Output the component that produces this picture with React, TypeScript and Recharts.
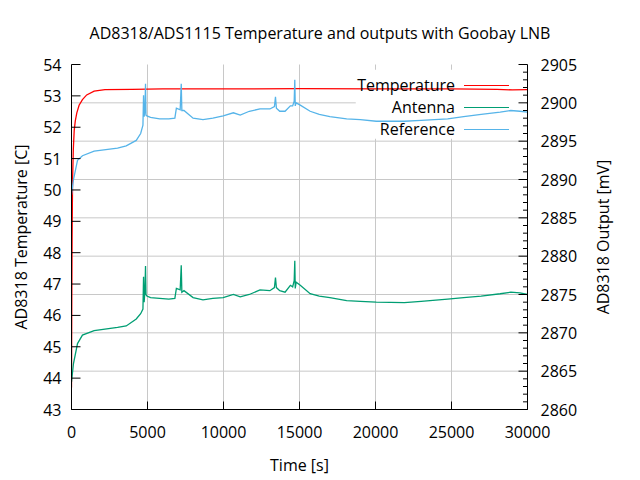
import React from "react";
import {
    ComposedChart,
    Line,
    XAxis,
    YAxis,
    CartesianGrid,
    ReferenceArea,
    Legend,
} from "recharts";

const FONT = "'Open Sans', sans-serif";

// temperature trace (left axis)
const TEMP_T = [0, 20, 40, 70, 120, 178, 250, 350, 500, 720, 1000, 1490, 2200, 4000, 6000, 10000, 15000, 20000, 25000, 28000, 29000, 30000];
const TEMP_C = [43.7, 46.5, 48.5, 50.3, 51.3, 51.9, 52.2, 52.46, 52.7, 52.88, 53.03, 53.15, 53.2, 53.21, 53.22, 53.22, 53.23, 53.22, 53.22, 53.21, 53.19, 53.2];

// detector outputs (right axis), shared time base
const SIG_T = [
    0, 130, 395, 720, 1490, 3030, 3600, 4260, 4550, 4700,
    4740, 4780, 4830, 4870, 4900, 4960, 5200, 5800, 6400, 6800,
    6900, 7150, 7220, 7260, 7400, 8000, 8650, 9300, 9980, 10650,
    11100, 11700, 12400, 13050, 13350, 13420, 13480, 13700, 14050, 14400,
    14550, 14650, 14690, 14720, 14780, 15050, 15700, 16300, 17000, 18100,
    19000, 20050, 21900, 23000, 24750, 25800, 26950, 28200, 28900, 29500,
    30000,
];
const ANTENNA_MV = [
    2863.6, 2866.0, 2868.6, 2869.7, 2870.3, 2870.7, 2870.9, 2871.8, 2872.5, 2873.1,
    2877.3, 2874.0, 2875.5, 2878.7, 2875.0, 2874.8, 2874.6, 2874.5, 2874.4, 2874.5,
    2875.8, 2875.6, 2878.8, 2875.3, 2875.5, 2874.6, 2874.3, 2874.5, 2874.6, 2875.0,
    2874.7, 2875.0, 2875.6, 2875.5, 2875.9, 2877.2, 2875.9, 2875.5, 2875.3, 2876.2,
    2876.0, 2876.8, 2879.4, 2875.8, 2876.6, 2876.2, 2875.1, 2874.8, 2874.6, 2874.2,
    2874.1, 2874.0, 2873.95, 2874.1, 2874.4, 2874.6, 2874.8, 2875.1, 2875.3, 2875.2,
    2875.0,
];
const REFERENCE_MV = [
    2888.0, 2890.0, 2892.5, 2893.1, 2893.7, 2894.1, 2894.4, 2895.1, 2896.0, 2897.1,
    2901.0, 2898.2, 2899.0, 2902.5, 2898.4, 2898.3, 2898.1, 2897.9, 2897.9, 2898.0,
    2899.3, 2899.1, 2902.5, 2899.0, 2899.0, 2898.0, 2897.8, 2898.0, 2898.3, 2898.7,
    2898.4, 2898.9, 2899.2, 2899.2, 2899.5, 2900.8, 2899.3, 2898.9, 2898.9, 2899.6,
    2899.6, 2900.2, 2903.0, 2899.6, 2900.0, 2899.7, 2898.9, 2898.5, 2898.2, 2897.9,
    2897.8, 2897.6, 2897.6, 2897.7, 2897.9, 2898.2, 2898.5, 2898.8, 2899.0, 2898.9,
    2898.8,
];

const X_TICKS = [0, 5000, 10000, 15000, 20000, 25000, 30000];
const LEFT_TICKS = [43, 44, 45, 46, 47, 48, 49, 50, 51, 52, 53, 54];
const RIGHT_DOMAIN = [2860, 2905];
const RIGHT_MAJOR = [2860, 2865, 2870, 2875, 2880, 2885, 2890, 2895, 2900, 2905];
const RIGHT_TICKS = Array.from({ length: 46 }, (_, i) => 2860 + i);
const GRID_MV = [2865, 2870, 2875, 2880, 2885, 2890, 2895, 2900];

const SERIES = [
    { name: "Temperature", color: "#ff0000" },
    { name: "Antenna", color: "#009e73" },
    { name: "Reference", color: "#56b4e9" },
];

const tempData = TEMP_T.map((t, i) => ({ t, temp: TEMP_C[i] }));
const sigData = SIG_T.map((t, i) => ({ t, antenna: ANTENNA_MV[i], reference: REFERENCE_MV[i] }));

const txt = { fontFamily: FONT, fontSize: 16, fill: "#000" };

// horizontal grid follows the right (mV) axis major ticks
function gridRows({ offset }: any) {
    const [lo, hi] = RIGHT_DOMAIN;
    return GRID_MV.map(v => offset.top + offset.height * (1 - (v - lo) / (hi - lo)));
}

function BottomTick({ x, y, payload }: any) {
    return (
        <g>
            <line x1={x} x2={x} y1={y} y2={y - 8} stroke="#000" />
            <text x={x} y={y + 28} textAnchor="middle" style={txt}>{payload.value}</text>
        </g>
    );
}

function TopTick({ x, y }: any) {
    return <line x1={x} x2={x} y1={y} y2={y + 8} stroke="#000" />;
}

function LeftTick({ x, y, payload }: any) {
    return (
        <g>
            <line x1={x} x2={x + 9} y1={y} y2={y} stroke="#000" />
            <text x={x - 10} y={y + 6} textAnchor="end" style={txt}>{payload.value}</text>
        </g>
    );
}

function RightTick({ x, y, payload }: any) {
    const major = RIGHT_MAJOR.includes(payload.value);
    return (
        <g>
            <line x1={x - (major ? 9 : 4.5)} x2={x} y1={y} y2={y} stroke="#000" />
            {major && (
                <text x={x + 13} y={y + 6} textAnchor="start" style={txt}>{payload.value}</text>
            )}
        </g>
    );
}

function KeyBox() {
    return (
        <div style={{ fontFamily: FONT, fontSize: 16, color: "#000" }}>
            {SERIES.map(s => (
                <div key={s.name} style={{ display: "flex", alignItems: "center", justifyContent: "flex-end", height: 22 }}>
                    <span style={{ lineHeight: "22px" }}>{s.name}</span>
                    <span style={{ display: "inline-block", width: 45, height: 1, background: s.color, marginLeft: 9 }} />
                </div>
            ))}
        </div>
    );
}

export default function App() {
    return (
        <div style={{ position: "absolute", left: 0, top: 0, width: 640, height: 480, background: "#fff" }}>
            <ComposedChart data={sigData} width={640} height={480} margin={{ top: 64.5, right: 0, bottom: 0, left: 0 }}>
                <CartesianGrid
                    stroke="#c8c8c8"
                    strokeWidth={1}
                    horizontalCoordinatesGenerator={gridRows}
                />
                <ReferenceArea yAxisId="right" x1={18700} x2={29900} y1={2895.3} y2={2904.3} fill="#fff" fillOpacity={1} stroke="none" ifOverflow="visible" />
                <XAxis
                    type="number"
                    dataKey="t"
                    domain={[0, 30000]}
                    ticks={X_TICKS}
                    interval={0}
                    allowDataOverflow
                    height={70.5}
                    tickSize={0}
                    tickMargin={0}
                    tick={<BottomTick />}
                    axisLine={{ stroke: "#000" }}
                    label={{
                        content: ({ viewBox }: any) => (
                            <text x={viewBox.x + viewBox.width / 2} y={viewBox.y + 61} textAnchor="middle" style={txt}>Time [s]</text>
                        ),
                    }}
                />
                <XAxis
                    xAxisId="top"
                    orientation="top"
                    type="number"
                    dataKey="t"
                    domain={[0, 30000]}
                    ticks={X_TICKS}
                    interval={0}
                    height={0}
                    tickSize={0}
                    tickMargin={0}
                    tick={<TopTick />}
                    axisLine={{ stroke: "#000" }}
                />
                <YAxis
                    yAxisId="left"
                    type="number"
                    domain={[43, 54]}
                    ticks={LEFT_TICKS}
                    interval={0}
                    width={71.5}
                    allowDataOverflow
                    tickSize={0}
                    tickMargin={0}
                    tick={<LeftTick />}
                    axisLine={{ stroke: "#000" }}
                    label={{
                        content: ({ viewBox }: any) => {
                            const cx = 21;
                            const cy = viewBox.y + viewBox.height / 2;
                            return (
                                <text x={cx} y={cy} textAnchor="middle" dominantBaseline="central" transform={`rotate(-90 ${cx} ${cy})`} style={txt}>
                                    AD8318 Temperature [C]
                                </text>
                            );
                        },
                    }}
                />
                <YAxis
                    yAxisId="right"
                    orientation="right"
                    type="number"
                    domain={RIGHT_DOMAIN}
                    ticks={RIGHT_TICKS}
                    interval={0}
                    width={112.5}
                    allowDataOverflow
                    tickSize={0}
                    tickMargin={0}
                    tick={<RightTick />}
                    axisLine={{ stroke: "#000" }}
                    label={{
                        content: ({ viewBox }: any) => {
                            const cx = 603;
                            const cy = viewBox.y + viewBox.height / 2;
                            return (
                                <text x={cx} y={cy} textAnchor="middle" dominantBaseline="central" transform={`rotate(-90 ${cx} ${cy})`} style={txt}>
                                    AD8318 Output [mV]
                                </text>
                            );
                        },
                    }}
                />
                <Line data={tempData} dataKey="temp" yAxisId="left" type="linear" stroke={SERIES[0].color} strokeWidth={1.3} dot={false} isAnimationActive={false} />
                <Line dataKey="antenna" yAxisId="right" type="linear" stroke={SERIES[1].color} strokeWidth={1.3} dot={false} isAnimationActive={false} />
                <Line dataKey="reference" yAxisId="right" type="linear" stroke={SERIES[2].color} strokeWidth={1.3} dot={false} isAnimationActive={false} />
                <Legend
                    layout="vertical"
                    align="center"
                    verticalAlign="middle"
                    content={() => <KeyBox />}
                    wrapperStyle={{ position: "absolute", left: 309, top: 74, width: 200, right: "auto", bottom: "auto" }}
                />
            </ComposedChart>
            <div style={{ position: "absolute", left: 0, top: 22, width: 640, textAlign: "center", fontFamily: FONT, fontSize: 16, lineHeight: "22px", color: "#000" }}>
                AD8318/ADS1115 Temperature and outputs with Goobay LNB
            </div>
        </div>
    );
}
